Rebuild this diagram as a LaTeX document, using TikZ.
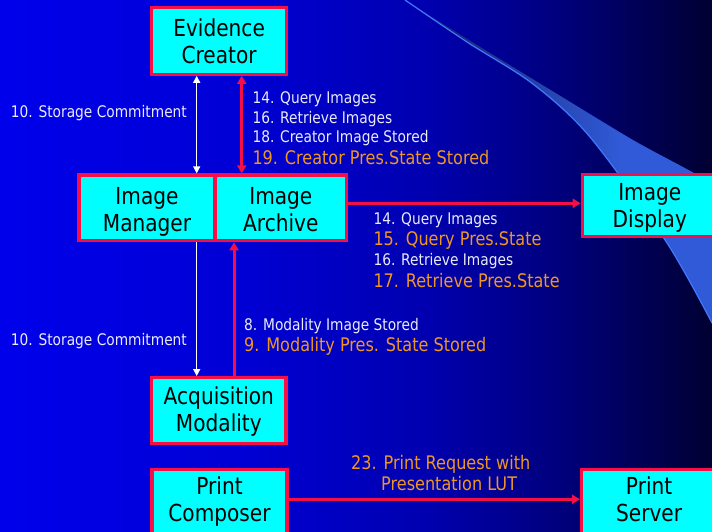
\documentclass[tikz,border=0pt]{standalone}
\usepackage{fontspec}
\setmainfont{DejaVu Sans}[FakeStretch=0.86]
\usetikzlibrary{arrows.meta}
\definecolor{boxcyan}{RGB}{0,255,255}
\definecolor{boxred}{RGB}{245,15,70}
\definecolor{lblorange}{RGB}{238,150,35}
\definecolor{lblwhite}{RGB}{235,235,248}
\definecolor{bgA}{RGB}{0,0,235}
\definecolor{bgB}{RGB}{0,0,212}
\definecolor{bgC}{RGB}{0,0,175}
\definecolor{bgD}{RGB}{0,0,120}
\definecolor{bgE}{RGB}{0,0,50}
\definecolor{swA}{RGB}{25,40,125}
\definecolor{swB}{RGB}{48,90,215}
\definecolor{swline}{RGB}{65,120,255}
\pgfdeclarehorizontalshading{bgshade}{100bp}{color(0bp)=(bgA); color(25bp)=(bgA); color(42bp)=(bgB); color(55bp)=(bgC); color(65bp)=(bgD); color(75bp)=(bgE); color(100bp)=(bgE)}
\pgfdeclarehorizontalshading{swshade}{100bp}{color(0bp)=(swA); color(33bp)=(swA); color(60bp)=(swB); color(100bp)=(swB)}
\begin{document}
\begin{tikzpicture}[x=1pt,y=-1pt,
  box/.style={draw=boxred, line width=3.3pt, fill=boxcyan, inner sep=0pt, align=center,
    font=\fontsize{23.4}{27.5}\selectfont, text height=46pt, text depth=0pt},
  lbl/.style={anchor=base west, inner sep=0pt, text=lblwhite, font=\fontsize{16}{19}\selectfont},
  olbl/.style={anchor=base west, inner sep=0pt, text=lblorange, font=\fontsize{18.7}{22}\selectfont},
  rarrow/.style={draw=boxred, line width=3pt, >={Triangle[length=8pt,width=9pt]}},
  warrow/.style={draw=white, line width=1.3pt, >={Triangle[length=7pt,width=7pt]}}]
\useasboundingbox (0,0) rectangle (712,531);
% background
\shade[shading=bgshade] (0,0) rectangle (712,531);
% swoosh
\shade[shading=swshade]
  plot[smooth] coordinates {(405,0) (467,42) (533,84) (590,137) (667,243) (712,323)}
  -- (712,183)
  -- plot[smooth] coordinates {(712,183) (683,167) (633,140) (567,100) (477,45) (405,0)} -- cycle;
\draw[swline, line width=1.2pt]
  plot[smooth] coordinates {(405,0) (467,42) (533,84) (590,137) (667,243) (712,323)};
% boxes
\node[box, minimum width=135.2pt, minimum height=66.9pt] (EC) at (219.1,40.75) {Evidence\\Creator};
\node[box, minimum width=136pt, minimum height=65.7pt, text height=47.7pt] (IM) at (147,207.85) {Image\\Manager};
\node[box, minimum width=131.7pt, minimum height=65.7pt, text height=47.7pt] (IA) at (280.85,207.85) {Image\\Archive};
\node[box, minimum width=135pt, minimum height=62.4pt, text height=44.6pt] (ID) at (649.8,205.5) {Image\\Display};
\node[box, minimum width=134.3pt, minimum height=65.6pt, text height=42.4pt] (AM) at (218.85,410.5) {Acquisition\\Modality};
\node[box, minimum width=135pt, minimum height=66.5pt, text height=38.3pt] (PC) at (219.5,502.55) {Print\\Composer};
\node[box, minimum width=135pt, minimum height=66.5pt, text height=38.3pt] (PS) at (649.1,502.55) {Print\\Server};
% connector positions
\coordinate (xw) at (196.7,0);
\coordinate (xr) at (241.7,0);
\coordinate (xm) at (234,0);
\coordinate (yd) at (0,203.3);
\coordinate (yp) at (0,499.3);
% connectors
\draw[warrow, <->] (EC.south -| xw) -- (IM.north -| xw);
\draw[rarrow, <->] (EC.south -| xr) -- (IA.north -| xr);
\draw[rarrow, ->] (IA.east |- yd) -- (ID.west |- yd);
\draw[warrow, ->] (IM.south -| xw) -- (AM.north -| xw);
\draw[rarrow, ->] (AM.north -| xm) -- (IA.south -| xm);
\draw[rarrow, ->] (PC.east |- yp) -- (PS.west |- yp);
% labels
\node[lbl] (sc1) at (10.7,117.3) {10. Storage Commitment};
\node[lbl] (sc2) at (10.7,345) {10. Storage Commitment};
\node[lbl] (e14) at (252.3,103) {14. Query Images};
\node[lbl] (e16) at (252.3,123) {16. Retrieve Images};
\node[lbl] (e18) at (252.3,142) {18. Creator Image Stored};
\node[olbl] (e19) at (252.3,164.3) {19. Creator Pres.State Stored};
\node[lbl] (d14) at (373.3,224) {14. Query Images};
\node[olbl] (d15) at (373.3,245.7) {15. Query Pres.State};
\node[lbl] (d16) at (373.3,265.7) {16. Retrieve Images};
\node[olbl] (d17) at (373.3,287.7) {17. Retrieve Pres.State};
\node[lbl] (m8) at (244,330) {8. Modality Image Stored};
\node[olbl] (m9) at (244,351.7) {9. Modality Pres. State Stored};
\node[olbl] (p1) at (351,469.3) {23. Print Request with};
\node[olbl] (p2) at (381,490.7) {Presentation LUT};
\end{tikzpicture}
\end{document}
